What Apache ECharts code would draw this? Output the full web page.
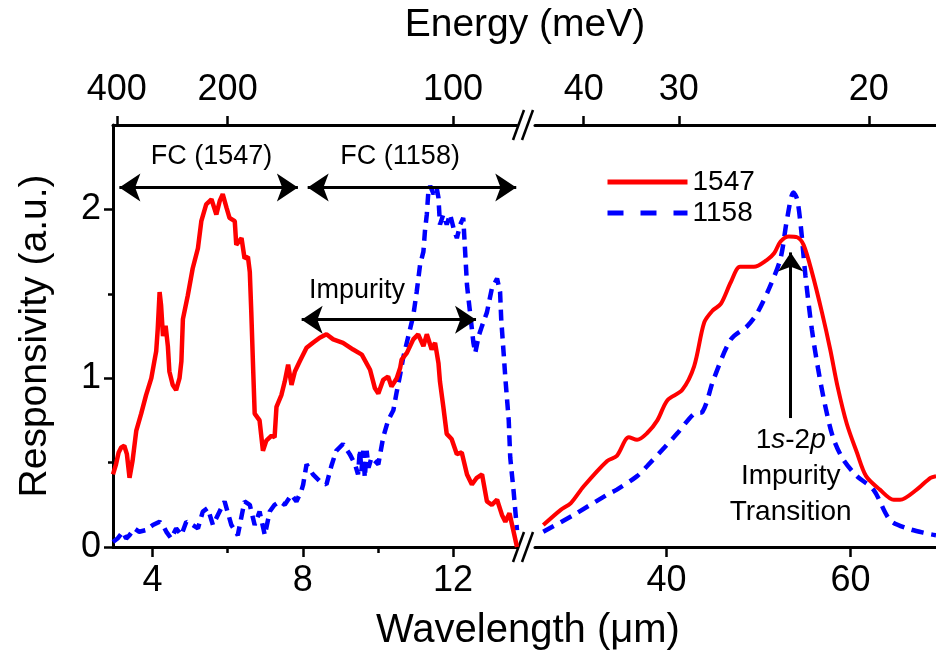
<!DOCTYPE html>
<html>
<head>
<meta charset="utf-8">
<script src="https://cdn.jsdelivr.net/npm/echarts@6/dist/echarts.min.js"></script>
<style>
html, body { margin: 0; padding: 0; background: #fff; }
#chart { width: 936px; height: 657px; }
</style>
</head>
<body>
<div id="chart"></div>
<script>
// sample 1547, short wavelength part (um, a.u.)
const red1547Short = [
  [2.95,0.43],[3.03,0.49],[3.10,0.56],[3.17,0.59],[3.25,0.60],[3.32,0.55],[3.39,0.41],[3.47,0.51],
  [3.57,0.69],[3.70,0.79],[3.83,0.90],[3.97,1.00],[4.05,1.10],[4.10,1.16],[4.14,1.29],[4.19,1.51],
  [4.23,1.43],[4.28,1.25],[4.35,1.31],[4.41,1.19],[4.45,1.04],[4.54,0.96],[4.63,0.93],[4.72,1.00],
  [4.77,1.10],[4.81,1.35],[4.94,1.49],[5.07,1.65],[5.21,1.77],[5.30,1.93],[5.43,2.03],[5.57,2.06],
  [5.70,1.97],[5.79,2.05],[5.87,2.09],[5.97,2.01],[6.05,1.95],[6.19,1.93],[6.23,1.79],[6.37,1.83],
  [6.45,1.71],[6.54,1.72],[6.59,1.63],[6.63,1.39],[6.68,1.05],[6.72,0.79],[6.85,0.75],[6.94,0.57],
  [7.03,0.63],[7.17,0.66],[7.25,0.65],[7.30,0.83],[7.43,0.90],[7.52,0.98],[7.61,1.08],[7.70,0.96],
  [7.79,1.04],[7.92,1.10],[8.10,1.18],[8.27,1.21],[8.45,1.24],[8.63,1.26],[8.81,1.23],[9.07,1.21],
  [9.34,1.17],[9.57,1.14],[9.79,1.05],[9.92,0.94],[10.01,0.91],[10.14,0.99],[10.27,1.01],[10.36,0.95],
  [10.50,1.00],[10.59,1.06],[10.63,1.11],[10.77,1.15],[10.94,1.23],[11.07,1.26],[11.21,1.19],[11.30,1.26],
  [11.43,1.17],[11.52,1.21],[11.61,1.09],[11.65,0.98],[11.74,0.83],[11.83,0.67],[11.96,0.64],[12.10,0.55],
  [12.23,0.56],[12.37,0.43],[12.50,0.37],[12.63,0.41],[12.77,0.43],[12.90,0.27],[13.03,0.25],[13.17,0.28],
  [13.30,0.19],[13.39,0.15],[13.50,0.20],[13.61,0.09],[13.70,0.00]
];
// sample 1158, short wavelength part
const blue1158Short = [
  [2.95,0.03],[3.07,0.05],[3.21,0.09],[3.30,0.05],[3.39,0.07],[3.52,0.11],[3.65,0.09],[3.83,0.10],
  [4.01,0.13],[4.19,0.15],[4.30,0.12],[4.37,0.09],[4.50,0.05],[4.63,0.11],[4.77,0.07],[4.90,0.15],
  [5.07,0.13],[5.21,0.11],[5.34,0.21],[5.47,0.23],[5.61,0.13],[5.74,0.19],[5.92,0.27],[6.10,0.13],
  [6.27,0.07],[6.45,0.27],[6.59,0.25],[6.72,0.13],[6.85,0.21],[6.99,0.07],[7.12,0.21],[7.25,0.25],
  [7.39,0.27],[7.52,0.25],[7.70,0.31],[7.83,0.27],[7.96,0.33],[8.01,0.37],[8.10,0.49],[8.27,0.43],
  [8.45,0.39],[8.63,0.37],[8.76,0.48],[8.89,0.57],[9.07,0.61],[9.25,0.55],[9.39,0.49],[9.47,0.43],
  [9.52,0.58],[9.56,0.45],[9.61,0.57],[9.65,0.41],[9.70,0.57],[9.75,0.47],[9.83,0.53],[10.01,0.49],
  [10.14,0.65],[10.27,0.75],[10.41,0.81],
  [10.50,0.92],[10.59,1.02],[10.67,1.12],[10.81,1.25],[10.94,1.37],[11.03,1.51],[11.12,1.67],[11.21,1.75],
  [11.25,1.87],[11.30,1.97],[11.34,2.10],[11.39,2.14],[11.48,2.09],[11.56,2.13],[11.61,2.07],[11.65,1.91],
  [11.74,1.97],[11.83,1.91],[11.92,1.97],[12.01,1.89],[12.10,1.83],[12.19,1.91],[12.27,1.95],[12.32,1.75],
  [12.37,1.55],[12.45,1.39],[12.54,1.21],[12.59,1.15],[12.68,1.25],[12.77,1.31],[12.90,1.39],[13.03,1.53],
  [13.17,1.59],[13.25,1.51],[13.28,1.35],[13.35,1.13],[13.39,1.00],[13.48,0.75],[13.52,0.53],[13.61,0.33],
  [13.70,0.10]
];
// long wavelength part
const red1547Long = [
  [26.6,0.13],[28.5,0.22],[29.6,0.26],[31.0,0.36],[33.55,0.51],[34.6,0.54],[35.9,0.65],[36.8,0.635],
  [37.9,0.675],[39.0,0.75],[40.1,0.87],[41.7,0.93],[43.0,1.07],[44.1,1.33],[45.0,1.40],[45.9,1.44],
  [47.0,1.57],[48.0,1.66],[49.5,1.66],[50.9,1.70],[51.7,1.74],[52.4,1.81],[53.3,1.84],[54.2,1.835],
  [54.9,1.79],[55.8,1.63],[56.9,1.39],[57.8,1.17],[58.6,0.95],[59.6,0.73],[60.7,0.56],[61.7,0.42],
  [63.2,0.34],[64.7,0.28],[65.4,0.28],[67.2,0.34],[68.7,0.41],[69.3,0.42]
];
const blue1158Long = [
  [26.6,0.09],[29.9,0.19],[33.55,0.31],[34.6,0.34],[36.8,0.42],[37.9,0.48],[39.7,0.585],[41.2,0.675],
  [43.0,0.79],[43.9,0.80],[45.1,0.99],[47.0,1.23],[48.8,1.31],[49.9,1.39],[51.3,1.55],[52.4,1.71],
  [53.1,1.94],[53.8,2.10],[54.2,2.06],[54.6,1.90],[55.1,1.61],[55.8,1.29],[56.5,1.05],[57.2,0.85],
  [58.1,0.65],[59.2,0.52],[60.7,0.42],[62.5,0.34],[64.3,0.16],[66.2,0.11],[68.3,0.08],[69.3,0.07]
];

const bottomTicksShort = [4, 8, 12];
const minorTicksShort = [6, 10];
const bottomTicksLong = [40, 60];
const energyLabelsShort = [400, 200, 100];
const energyPosShort = [3.05, 6.0, 12.0];   // where the reference puts them
const energyLabelsLong = [40, 30, 20];
const energyPosLong = energyLabelsLong.map(e => 1240 / e);
const yTicks = [0, 1, 2];
const yMinorTicks = [0.5, 1.5];

const FONT = "'Liberation Sans', Arial, sans-serif";
const G0 = { left: 113, top: 125, width: 404, height: 422 };
const G1 = { left: 535, top: 125, width: 401, height: 422 };

let myChart = echarts.init(document.getElementById("chart"));

const lineAx = { show: true, onZero: false, lineStyle: { color: "#000", width: 3 } };
const tickStyle = { color: "#000", width: 2.5 };
const labelStyle = { color: "#000", fontSize: 36, fontFamily: FONT };

function energyFormatter(pos, labels) {
  return function (v) {
    for (let i = 0; i < pos.length; i++) {
      if (Math.abs(pos[i] - v) < 1e-6) return String(labels[i]);
    }
    return "";
  };
}

// "//" break marks on both axes
function breakMarks(y) {
  let out = [];
  [513, 522].forEach(function (x0) {
    out.push({
      type: "line",
      shape: { x1: x0, y1: y + 15, x2: x0 + 11, y2: y - 15 },
      style: { stroke: "#000", lineWidth: 2.5 },
    });
  });
  return out;
}

let option = {
  animation: false,
  backgroundColor: "#fff",
  textStyle: { fontFamily: FONT },
  grid: [G0, G1],
  legend: {
    data: [
      { name: "1547", lineStyle: { width: 5 } },
      { name: "1158", lineStyle: { width: 5, type: [16, 17] } },
    ],
    orient: "vertical",
    left: 600,
    top: 163,
    itemWidth: 80,
    itemHeight: 14,
    itemGap: 3,
    selectedMode: false,
    itemStyle: { color: "rgba(0,0,0,0)", borderWidth: 0, opacity: 0 },
    textStyle: { color: "#000", fontSize: 28, fontFamily: FONT },
  },
  xAxis: [
    {
      gridIndex: 0, type: "value", position: "bottom", min: 2.95, max: 13.7,
      axisLine: lineAx,
      axisTick: { show: true, inside: false, customValues: bottomTicksShort, length: 10, lineStyle: tickStyle },
      axisLabel: Object.assign({ customValues: bottomTicksShort, margin: 16 }, labelStyle),
      splitLine: { show: false },
    },
    {
      gridIndex: 0, type: "value", position: "bottom", min: 2.95, max: 13.7,
      axisLine: { show: false, onZero: false },
      axisTick: { show: true, inside: false, customValues: minorTicksShort, length: 6, lineStyle: tickStyle },
      axisLabel: { show: false },
      splitLine: { show: false },
    },
    {
      gridIndex: 0, type: "value", position: "top", min: 2.95, max: 13.7,
      axisLine: lineAx,
      axisTick: { show: true, inside: false, customValues: energyPosShort, length: 9, lineStyle: tickStyle },
      axisLabel: Object.assign({
        customValues: energyPosShort, margin: 17,
        formatter: energyFormatter(energyPosShort, energyLabelsShort),
      }, labelStyle),
      splitLine: { show: false },
    },
    {
      gridIndex: 1, type: "value", position: "bottom", min: 25.7, max: 69.3,
      axisLine: lineAx,
      axisTick: { show: true, inside: false, customValues: bottomTicksLong, length: 10, lineStyle: tickStyle },
      axisLabel: Object.assign({ customValues: bottomTicksLong, margin: 16 }, labelStyle),
      splitLine: { show: false },
    },
    {
      gridIndex: 1, type: "value", position: "top", min: 25.7, max: 69.3,
      axisLine: lineAx,
      axisTick: { show: true, inside: false, customValues: energyPosLong, length: 9, lineStyle: tickStyle },
      axisLabel: Object.assign({
        customValues: energyPosLong, margin: 17,
        formatter: energyFormatter(energyPosLong, energyLabelsLong),
      }, labelStyle),
      splitLine: { show: false },
    },
  ],
  yAxis: [
    {
      gridIndex: 0, type: "value", position: "left", min: 0, max: 2.5,
      name: "Responsivity (a.u.)",
      nameLocation: "middle",
      nameGap: 58,
      nameTextStyle: { color: "#000", fontSize: 39, fontFamily: FONT },
      axisLine: lineAx,
      axisTick: { show: true, inside: false, customValues: yTicks, length: 9, lineStyle: tickStyle },
      axisLabel: Object.assign({ customValues: yTicks, margin: 12 }, labelStyle),
      splitLine: { show: false },
    },
    {
      gridIndex: 0, type: "value", position: "left", min: 0, max: 2.5,
      axisLine: { show: false, onZero: false },
      axisTick: { show: true, inside: false, customValues: yMinorTicks, length: 5, lineStyle: tickStyle },
      axisLabel: { show: false },
      splitLine: { show: false },
    },
    { gridIndex: 1, type: "value", min: 0, max: 2.5, show: false },
  ],
  graphic: [
    {
      type: "text", x: 525, y: 25,
      style: { text: "Energy (meV)", fill: "#000", font: "39px " + FONT, textAlign: "center", textVerticalAlign: "middle" },
    },
    {
      type: "text", x: 528, y: 631,
      style: { text: "Wavelength (\u03bcm)", fill: "#000", font: "40px " + FONT, textAlign: "center", textVerticalAlign: "middle" },
    },
  ].concat(breakMarks(G0.top), breakMarks(G0.top + G0.height)),
  series: [
    {
      name: "1158", type: "line", xAxisIndex: 0, yAxisIndex: 0,
      data: blue1158Short, symbol: "none",
      lineStyle: { color: "#0000ff", width: 4.5, type: [11, 7] },
      itemStyle: { color: "#0000ff" },
    },
    {
      name: "1547", type: "line", xAxisIndex: 0, yAxisIndex: 0,
      data: red1547Short, symbol: "none",
      lineStyle: { color: "#ff0000", width: 4.5 },
      itemStyle: { color: "#ff0000" },
      markLine: {
        silent: true,
        symbol: ["arrow", "arrow"],
        symbolSize: 21,
        label: { show: false },
        lineStyle: { color: "#000", width: 3, type: "solid" },
        data: [
          [{ coord: [3.12, 2.13] }, { coord: [7.87, 2.13] }],
          [{ coord: [8.13, 2.13] }, { coord: [13.68, 2.13] }],
          [{ coord: [7.97, 1.347] }, { coord: [12.61, 1.347] }],
        ],
      },
      markPoint: {
        silent: true,
        symbol: "circle",
        symbolSize: 1,
        itemStyle: { color: "rgba(0,0,0,0)" },
        label: { show: true, position: "inside", color: "#000", fontSize: 27, fontFamily: FONT, formatter: p => p.name },
        data: [
          { name: "FC (1547)", coord: [5.57, 2.315] },
          { name: "FC (1158)", coord: [10.59, 2.315] },
          { name: "Impurity", coord: [9.44, 1.518] },
        ],
      },
    },
    {
      name: "1158", type: "line", xAxisIndex: 3, yAxisIndex: 2,
      data: blue1158Long, symbol: "none", smooth: 0.3,
      lineStyle: { color: "#0000ff", width: 4.5, type: [12, 8] },
      itemStyle: { color: "#0000ff" },
    },
    {
      name: "1547", type: "line", xAxisIndex: 3, yAxisIndex: 2,
      data: red1547Long, symbol: "none", smooth: 0.3,
      lineStyle: { color: "#ff0000", width: 4 },
      itemStyle: { color: "#ff0000" },
      markLine: {
        silent: true,
        symbolSize: 19,
        label: { show: false },
        lineStyle: { color: "#000", width: 3, type: "solid" },
        data: [
          [{ coord: [53.5, 0.764], symbol: "none" }, { coord: [53.5, 1.745], symbol: "arrow" }],
        ],
      },
      markPoint: {
        silent: true,
        symbol: "circle",
        symbolSize: 1,
        itemStyle: { color: "rgba(0,0,0,0)" },
        label: {
          show: true, position: "inside", color: "#000", fontSize: 28, lineHeight: 36, fontFamily: FONT,
          formatter: "1{i|s}-2{i|p}\nImpurity\nTransition",
          rich: { i: { fontStyle: "italic", fontSize: 28, fontFamily: FONT, lineHeight: 36 } },
        },
        data: [{ name: "1s-2p", coord: [53.5, 0.42] }],
      },
    },
  ],
};
myChart.setOption(option);
</script>
</body>
</html>
